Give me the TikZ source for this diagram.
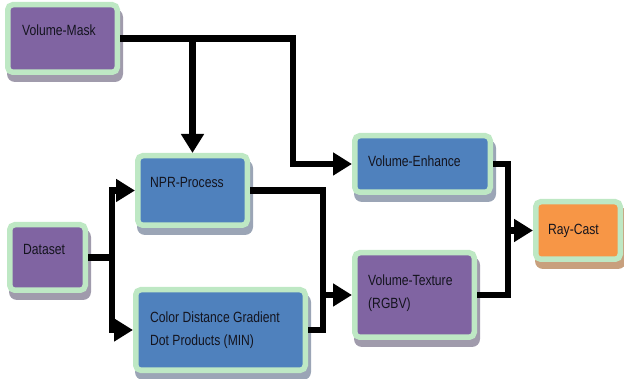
\documentclass[tikz,border=0pt]{standalone}
\usepackage{fontspec}
\setmainfont{Liberation Sans}[FakeStretch=0.82]
\usetikzlibrary{arrows.meta,backgrounds}
\definecolor{bpurple}{RGB}{128,100,162}
\definecolor{bblue}{RGB}{79,129,189}
\definecolor{borange}{RGB}{247,150,70}
\definecolor{bgreen}{RGB}{190,232,196}
\definecolor{shP}{RGB}{160,155,172}
\definecolor{shB}{RGB}{155,165,182}
\definecolor{shO}{RGB}{200,160,125}
\definecolor{txt}{RGB}{20,20,30}
\begin{document}
\begin{tikzpicture}[x=1pt,y=-1pt,
  flowbox/.style={draw=bgreen, line width=5.5pt, rounded corners=5pt, anchor=north west, inner sep=0pt},
  lbl/.style={font=\fontsize{14.8}{23}\selectfont, text=txt, inner sep=0pt, align=left},
  conn/.style={line width=6.5pt},
  arr/.style={-{Triangle[length=19pt,width=22pt]}},
  shad/.style={rounded corners=8pt}
]
\useasboundingbox (0,0) rectangle (624,379);

% boxes
\node[flowbox, fill=bpurple, minimum width=109.5pt, minimum height=67.5pt] (vm) at (5,2) {};
\node[flowbox, fill=bblue, minimum width=109.5pt, minimum height=69.5pt] (npr) at (135,153) {};
\node[flowbox, fill=bpurple, minimum width=75.5pt, minimum height=65.5pt] (ds) at (7,222) {};
\node[flowbox, fill=bblue, minimum width=169.5pt, minimum height=80.5pt] (cd) at (133,287) {};
\node[flowbox, fill=bblue, minimum width=135.5pt, minimum height=56.5pt] (ve) at (352,133) {};
\node[flowbox, fill=bpurple, minimum width=119.5pt, minimum height=84.5pt] (vt) at (352,250) {};
\node[flowbox, fill=borange, minimum width=84.5pt, minimum height=57.5pt] (rc) at (533,199) {};

% shadows
\begin{scope}[on background layer]
\fill[shP, shad] ([shift={(2,7)}]vm.north west) rectangle ([shift={(3,7)}]vm.south east);
\fill[shB, shad] ([shift={(2,7)}]npr.north west) rectangle ([shift={(3,7)}]npr.south east);
\fill[shP, shad] ([shift={(2,7)}]ds.north west) rectangle ([shift={(3,7)}]ds.south east);
\fill[shB, shad] ([shift={(2,7)}]cd.north west) rectangle ([shift={(3,7)}]cd.south east);
\fill[shB, shad] ([shift={(2,7)}]ve.north west) rectangle ([shift={(3,7)}]ve.south east);
\fill[shP, shad] ([shift={(2,7)}]vt.north west) rectangle ([shift={(3,7)}]vt.south east);
\fill[shO, shad] ([shift={(2,7)}]rc.north west) rectangle ([shift={(3,7)}]rc.south east);
\end{scope}

% labels
\node[lbl, anchor=base west] (tvm) at (22,36) {Volume-Mask};
\node[lbl, anchor=base west] (tnpr) at (150,188) {NPR-Process};
\node[lbl, anchor=base west] (tds) at (23,255) {Dataset};
\node[lbl, anchor=north west] (tcd) at (150,311.4) {Color Distance Gradient\\Dot Products (MIN)};
\node[lbl, anchor=base west] (tve) at (368,167) {Volume-Enhance};
\node[lbl, anchor=north west] (tvt) at (368,274.4) {Volume-Texture\\(RGBV)};
\node[lbl, anchor=base west] (trc) at (548,235) {Ray-Cast};

% connectors
\draw[conn, arr] (vm.east) -- (293,38.5) |- (ve.west);
\draw[conn, arr] (npr.north |- vm.east) -- (npr.north);
\coordinate (j1) at (112,257.5);
\draw[conn, arr] (ds.east) -- (j1) |- (npr.west);
\draw[conn, arr] (j1) |- (cd.west);
\coordinate (j2) at (323,330);
\draw[conn] (npr.east) -| (j2) -- (cd.east);
\draw[conn, arr] (j2 |- vt.west) -- (vt.west);
\coordinate (j3) at (508,295);
\draw[conn] (ve.east) -| (j3) -- (vt.east);
\draw[conn, arr] (j3 |- rc.west) -- (rc.west);
\end{tikzpicture}
\end{document}
